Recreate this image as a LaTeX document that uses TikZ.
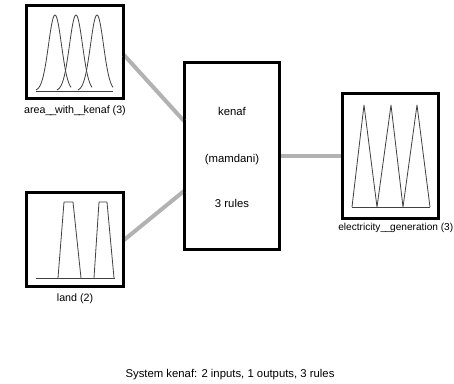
\documentclass[tikz,border=0pt]{standalone}
\usepackage{fontspec}
\setmainfont{Liberation Sans}
\newcommand{\us}{\makebox[3.6pt][l]{\_}}
\begin{document}
\begin{tikzpicture}[x=0.75pt,y=-0.75pt,
  mfbox/.style={draw=black,line width=1.5pt,fill=white},
  conn/.style={draw=black!30,line width=3pt},
  mf/.style={draw=black!75,line width=0.6pt,line join=round},
  lbl/.style={font=\fontsize{8}{9.6}\selectfont,inner sep=0pt},
  big/.style={font=\fontsize{8.5}{10}\selectfont,inner sep=0pt}]
\useasboundingbox[fill=white] (0,0) rectangle (454,383);
% boxes as nodes
\node[mfbox,minimum width=72pt,minimum height=69pt,inner sep=0pt] (in1) at (75,52) {};
\node[mfbox,minimum width=72pt,minimum height=70pt,inner sep=0pt] (in2) at (75,239.5) {};
\node[mfbox,minimum width=70.5pt,minimum height=139.5pt,inner sep=0pt] (sys) at (232,156) {};
\node[mfbox,minimum width=71pt,minimum height=93pt,inner sep=0pt] (out1) at (390.5,156) {};
% connectors
\draw[conn] (in1.east |- 0,55) -- (sys.west |- 0,121);
\draw[conn] (in2.east |- 0,240) -- (sys.west |- 0,191);
\draw[conn] (sys.east |- 0,156) -- (out1.west |- 0,156);
% redraw box borders on top
\draw[line width=1.5pt] (in1.north west) rectangle (in1.south east);
\draw[line width=1.5pt] (in2.north west) rectangle (in2.south east);
\draw[line width=1.5pt] (sys.north west) rectangle (sys.south east);
\draw[line width=1.5pt] (out1.north west) rectangle (out1.south east);
% system text
\node[big] (t1) at (232,111) {kenaf};
\node[big] (t2) at (232,160) {(mamdani)};
\node[big] (t3) at (232,203) {3 rules};
% gaussian MFs
\draw[mf] (36,91) -- (113,91);
\foreach \c in {55,76,97}{
  \draw[mf] plot[domain={\c-19}:{\c+16},samples=60,smooth] (\x,{91-76*exp(-((\x-\c)/6.5)^2/2)});
}
% trapezoid MFs
\draw[mf] (36,278) -- (115,278);
\draw[mf] (58,278) -- (64,202) -- (73,202) -- (81,278);
\draw[mf] (94,278) -- (99,202) -- (107,202) -- (114,278);
% triangle MFs
\draw[mf] (352,207) -- (430,207);
\draw[mf] (352,207) -- (364,105) -- (377,207) -- (391,105) -- (403,207) -- (417,105) -- (430,207);
% labels
\node[lbl] (l1) at (75,111) {area\us\us with\us\us kenaf (3)};
\node[lbl] (l2) at (75,299) {land (2)};
\node[font=\fontsize{7.6}{9}\selectfont,inner sep=0pt,anchor=east] (l3) at (453.5,228) {electricity\us\us generation (3)};
\node[big] (sum) at (230,375) {System kenaf: 2 inputs, 1 outputs, 3 rules};
\end{tikzpicture}
\end{document}
